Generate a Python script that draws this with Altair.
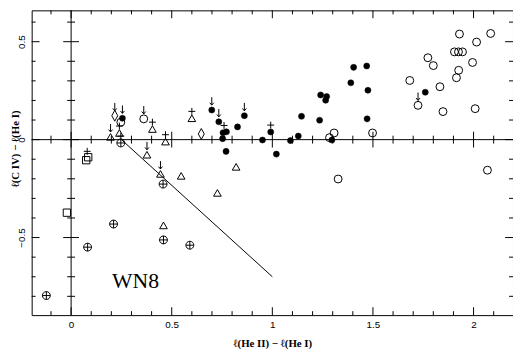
import altair as alt
import pandas as pd

# ---- data ----
open_x = [1.93, 2.085, 2.015, 1.773, 1.80, 1.905, 1.925, 1.945, 1.995, 1.926, 1.915, 1.683, 1.833, 1.724,
          1.848, 2.008, 1.498, 1.307, 1.284, 1.327, 2.069, 0.361, 0.247]
open_y = [0.539, 0.542, 0.498, 0.418, 0.378, 0.448, 0.448, 0.448, 0.394, 0.354, 0.316, 0.302, 0.27, 0.175,
          0.143, 0.158, 0.034, 0.034, 0.01, -0.201, -0.156, 0.106, 0.089]

filled_x = [0.255, 0.699, 0.734, 0.755, 0.772, 0.753, 0.770, 0.827, 0.861, 0.951, 0.992, 1.02, 1.09, 1.129,
            1.145, 1.235, 1.24, 1.27, 1.265, 1.296, 1.39, 1.404, 1.469, 1.475, 1.471, 1.76]
filled_y = [0.109, 0.151, 0.091, 0.035, 0.04, 0.005, -0.06, 0.065, 0.122, -0.002, 0.039, -0.074, -0.005, 0.018,
            0.119, 0.099, 0.228, 0.22, 0.201, -0.002, 0.29, 0.369, 0.376, 0.252, 0.106, 0.242]

oplus_x = [-0.123, 0.082, 0.211, 0.457, 0.459, 0.59, 0.247]
oplus_y = [-0.796, -0.549, -0.431, -0.227, -0.512, -0.539, -0.017]

tri_x = [0.196, 0.24, 0.404, 0.6, 0.469, 0.377, 0.444, 0.547, 0.82, 0.727, 0.459]
tri_y = [0.014, 0.034, 0.054, 0.109, -0.01, -0.077, -0.175, -0.185, -0.139, -0.272, -0.438]

sq_x = [0.075, 0.085, -0.021]
sq_y = [-0.105, -0.09, -0.373]

dia_x = [0.217, 0.647]
dia_y = [0.122, 0.029]

arrow_x = [0.196, 0.217, 0.255, 0.361, 0.377, 0.444, 0.699, 0.734, 0.861, 1.724]
arrow_y = [0.014, 0.122, 0.109, 0.106, -0.077, -0.175, 0.151, 0.091, 0.122, 0.175]

plus_x = [0.08, 0.24, 0.247, 0.404, 0.469, 0.6, 0.76, 0.992]
plus_y = [-0.095, 0.034, -0.017, 0.054, -0.01, 0.109, 0.037, 0.039]

line_x = [0.25, 1.0]
line_y = [0.0, -0.70]

label_text = ["WN8"]
label_x = [0.32]
label_y = [-0.72]

x_ticks_major = [0, 0.5, 1, 1.5, 2]
x_ticks_minor = [-0.1, 0.1, 0.2, 0.3, 0.4, 0.6, 0.7, 0.8, 0.9, 1.1, 1.2, 1.3, 1.4, 1.6, 1.7, 1.8, 1.9, 2.1]
y_ticks_major = [-0.5, 0, 0.5]
y_ticks_minor = [-0.8, -0.7, -0.6, -0.4, -0.3, -0.2, -0.1, 0.1, 0.2, 0.3, 0.4, 0.6]

W, H = 488, 309
XDOM = [-0.196, 2.196]
YDOM = [-0.896, 0.66]
X0 = (0 - XDOM[0]) / (XDOM[1] - XDOM[0]) * W
Y0 = (YDOM[1] - 0) / (YDOM[1] - YDOM[0]) * H

xs = alt.Scale(domain=XDOM, nice=False, zero=False)
ys = alt.Scale(domain=YDOM, nice=False, zero=False)

X = alt.X("x:Q", scale=xs, axis=alt.Axis(
    values=x_ticks_major, format="~g", ticks=False, domain=False, grid=False,
    labelFont="Liberation Sans", labelFontSize=10, labelPadding=5, labelColor="black",
    title="ℓ(He II) − ℓ(He I)", titleFont="Liberation Serif", titleFontSize=11,
    titleFontWeight="bold", titlePadding=8, titleColor="black"))
Y = alt.Y("y:Q", scale=ys, axis=alt.Axis(
    values=y_ticks_major, format="~g", ticks=False, domain=False, grid=False,
    labelFont="Liberation Sans", labelFontSize=10, labelPadding=5, labelColor="black",
    labelAngle=270, labelAlign="center", labelBaseline="bottom",
    title="ℓ(C IV) − ℓ(He I)", titleFont="Liberation Serif", titleFontSize=11,
    titleFontWeight="bold", titleColor="black", titleAngle=270,
    titleX=-16, titleY=140, titleAlign="center", titleBaseline="middle"))

def df(x, y):
    return pd.DataFrame({"x": x, "y": y})

base_open = alt.Chart(df(open_x, open_y)).mark_point(
    shape="circle", size=64, filled=False, stroke="black", strokeWidth=1, opacity=1).encode(x=X, y=Y)
filled = alt.Chart(df(filled_x, filled_y)).mark_point(
    shape="circle", size=38, filled=True, fill="black", stroke="black", strokeWidth=0.5, opacity=1).encode(x=X, y=Y)
oplus = alt.Chart(df(oplus_x, oplus_y)).mark_point(
    shape="M-1,0A1,1,0,1,1,1,0A1,1,0,1,1,-1,0ZM-1,0L1,0M0,-1L0,1",
    size=64, filled=False, stroke="black", strokeWidth=1, opacity=1).encode(x=X, y=Y)
tri = alt.Chart(df(tri_x, tri_y)).mark_point(
    shape="triangle-up", size=60, filled=False, stroke="black", strokeWidth=1, opacity=1).encode(x=X, y=Y)
sq = alt.Chart(df(sq_x, sq_y)).mark_point(
    shape="square", size=55, filled=False, stroke="black", strokeWidth=1, opacity=1).encode(x=X, y=Y)
dia = alt.Chart(df(dia_x, dia_y)).mark_point(
    shape="M0,-1L0.55,0L0,1L-0.55,0Z", size=121, filled=False, stroke="black", strokeWidth=1,
    opacity=1).encode(x=X, y=Y)
arrows = alt.Chart(df(arrow_x, arrow_y)).mark_point(
    shape="M0,-1L0,1M-0.5,0.4L0,1L0.5,0.4", size=64, filled=False, stroke="black", strokeWidth=1,
    opacity=1, yOffset=-9).encode(x=X, y=Y)
pluses = alt.Chart(df(plus_x, plus_y)).mark_point(
    shape="M-1,0L1,0M0,-1L0,1", size=49, filled=False, stroke="black", strokeWidth=1,
    opacity=1, yOffset=-7).encode(x=X, y=Y)
line = alt.Chart(df(line_x, line_y)).mark_line(color="black", strokeWidth=1).encode(x=X, y=Y)
label = alt.Chart(pd.DataFrame({"x": label_x, "y": label_y, "t": label_text})).mark_text(
    font="Liberation Serif", fontSize=22, color="black").encode(x=X, y=Y, text="t:N")

zx = alt.Chart(df([0], [0])).mark_rule(color="black", strokeWidth=1).encode(x=X)
zy = alt.Chart(df([0], [0])).mark_rule(color="black", strokeWidth=1).encode(y=Y)

def xticks(vals, y1, y2):
    return alt.Chart(pd.DataFrame({"x": vals})).mark_rule(color="black", strokeWidth=1).encode(
        x=X, y=alt.value(y1), y2=alt.value(y2))

def yticks(vals, x1, x2):
    return alt.Chart(pd.DataFrame({"y": vals})).mark_rule(color="black", strokeWidth=1).encode(
        y=Y, x=alt.value(x1), x2=alt.value(x2))

ticks = [
    xticks(x_ticks_minor, H, H - 4), xticks(x_ticks_major, H, H - 8),
    xticks(x_ticks_minor, 0, 4), xticks(x_ticks_major, 0, 8),
    xticks(x_ticks_minor, Y0 - 4, Y0 + 4), xticks(x_ticks_major, Y0 - 8, Y0 + 8),
    yticks(y_ticks_minor, 0, 4), yticks(y_ticks_major, 0, 8),
    yticks(y_ticks_minor, W, W - 4), yticks(y_ticks_major, W, W - 8),
    yticks(y_ticks_minor, X0 - 4, X0 + 4), yticks(y_ticks_major, X0 - 8, X0 + 8),
]

chart = alt.layer(zx, zy, *ticks, line, base_open, filled, oplus, tri, sq, dia, arrows, pluses, label).properties(
    width=W, height=H,
    autosize=alt.AutoSizeParams(type="none"),
    padding={"left": 24, "top": 0, "right": 0, "bottom": 35},
    background="white",
).configure_view(stroke="black", strokeWidth=1)

chart.save("out.html", embed_options={"renderer": "svg", "actions": False})
